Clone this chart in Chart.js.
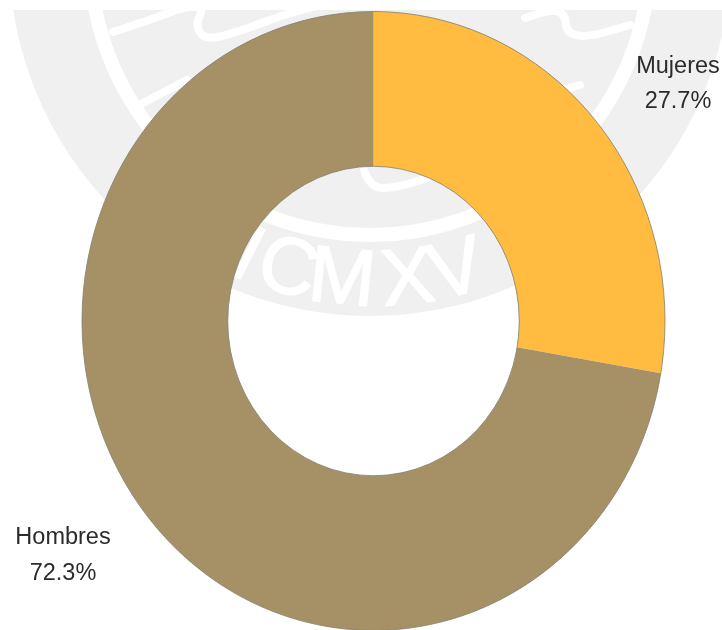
<!DOCTYPE html>
<html lang="es">
<head>
<meta charset="utf-8">
<style>html,body{margin:0;padding:0;background:#fff}canvas{display:block}</style>
<script src="https://cdn.jsdelivr.net/npm/chart.js@4"></script>
</head>
<body>
<canvas id="c" width="722" height="630"></canvas>
<script>
const categories = ['Mujeres', 'Hombres'];
const values = [27.7, 72.3];
const valueLabels = ['27.7%', '72.3%'];
const colors = ['#FFBC40', '#A69166'];
const outlineColor = '#85816f';
const textColor = '#2b2b2b';
const labelCentersX = [678, 63];
const labelBaselines = [[73, 108], [544, 580]];
const watermarkLetters = ['M', 'C', 'M', 'X', 'V'];
const watermarkAngles = [-27, -15.5, -5.8, 5.8, 14.5];
const verticalStretch = 1.0617;

function stretch(chart) {
  const m = chart.getDatasetMeta(0).data[0];
  const ctx = chart.ctx;
  ctx.translate(m.x, m.y);
  ctx.scale(1, verticalStretch);
  ctx.translate(-m.x, -m.y);
}

function smoothPath(ctx, path) {
  ctx.beginPath();
  ctx.moveTo(path[0][0], path[0][1]);
  for (let i = 1; i < path.length - 1; i++) {
    const mx = (path[i][0] + path[i + 1][0]) / 2, my = (path[i][1] + path[i + 1][1]) / 2;
    ctx.quadraticCurveTo(path[i][0], path[i][1], mx, my);
  }
  const last = path[path.length - 1];
  ctx.lineTo(last[0], last[1]);
  ctx.stroke();
}

const watermark = {
  id: 'watermark',
  beforeDraw(chart) {
    const ctx = chart.ctx, cx = 370, cy = -45;
    ctx.save();
    ctx.beginPath();
    ctx.rect(0, 10, 722, 620);
    ctx.clip();
    ctx.fillStyle = '#f0f0f0';
    ctx.beginPath();
    ctx.arc(cx, cy, 361, 0, Math.PI * 2);
    ctx.fill();
    ctx.strokeStyle = '#fff';
    ctx.lineWidth = 14;
    ctx.beginPath();
    ctx.arc(cx, cy, 280, 0, Math.PI * 2);
    ctx.stroke();
    ctx.lineCap = 'round';
    ctx.lineJoin = 'round';
    ctx.lineWidth = 8;
    [
      [[113, 32], [150, 20], [187, 6], [204, 8], [195, 25], [205, 40], [235, 33], [283, 15], [323, 4]],
      [[143, 103], [187, 80]],
      [[525, 18], [553, 8], [566, 16], [566, 32], [585, 38], [630, 25]],
      [[553, 93], [580, 85]],
      [[364, 170], [370, 188], [395, 188], [427, 178]]
    ].forEach(path => smoothPath(ctx, path));
    ctx.fillStyle = '#fff';
    ctx.strokeStyle = '#fff';
    ctx.lineWidth = 1.5;
    ctx.font = '80px "Liberation Sans"';
    ctx.textAlign = 'center';
    ctx.textBaseline = 'middle';
    watermarkLetters.forEach((letter, i) => {
      const a = watermarkAngles[i] * Math.PI / 180;
      ctx.save();
      ctx.translate(375 + 328 * Math.sin(a), cy + 328 * Math.cos(a));
      ctx.rotate(-a);
      ctx.fillText(letter, 0, 0);
      ctx.strokeText(letter, 0, 0);
      ctx.restore();
    });
    ctx.restore();
  }
};

const ellipse = {
  id: 'ellipse',
  beforeDatasetsDraw(chart) {
    chart.ctx.save();
    stretch(chart);
  },
  afterDatasetsDraw(chart) {
    const ctx = chart.ctx, m = chart.getDatasetMeta(0).data[0];
    ctx.strokeStyle = outlineColor;
    ctx.lineWidth = 0.8;
    [m.outerRadius, m.innerRadius].forEach(r => {
      ctx.beginPath();
      ctx.arc(m.x, m.y, r, 0, Math.PI * 2);
      ctx.stroke();
    });
    ctx.restore();
  }
};

const outerLabels = {
  id: 'outerLabels',
  afterDraw(chart) {
    const ctx = chart.ctx;
    ctx.save();
    ctx.fillStyle = textColor;
    ctx.font = '23.5px "Liberation Sans"';
    ctx.textAlign = 'center';
    ctx.textBaseline = 'alphabetic';
    chart.data.labels.forEach((name, i) => {
      ctx.fillText(name, labelCentersX[i], labelBaselines[i][0]);
      ctx.fillText(valueLabels[i], labelCentersX[i], labelBaselines[i][1]);
    });
    ctx.restore();
  }
};

new Chart(document.getElementById('c'), {
  type: 'doughnut',
  data: {
    labels: categories,
    datasets: [{ data: values, backgroundColor: colors, borderWidth: 0, clip: false }]
  },
  options: {
    responsive: false,
    animation: false,
    cutout: '50%',
    rotation: 0,
    layout: { padding: { left: 82, right: 57, top: 29.5, bottom: 17.5 } },
    plugins: { legend: { display: false }, tooltip: { enabled: false } }
  },
  plugins: [watermark, ellipse, outerLabels]
});
</script>
</body>
</html>
